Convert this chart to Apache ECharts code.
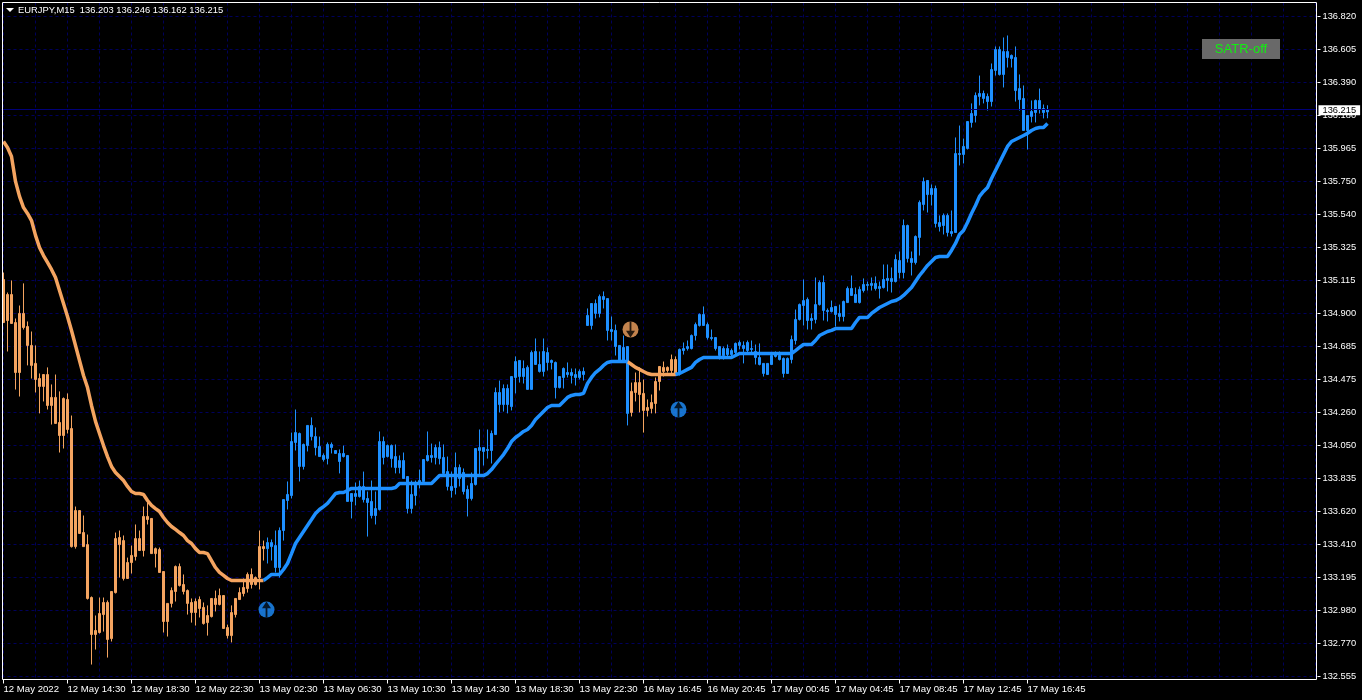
<!DOCTYPE html>
<html>
<head>
<meta charset="utf-8">
<title>EURJPY,M15</title>
<script src="https://cdn.jsdelivr.net/npm/echarts@6/dist/echarts.min.js"></script>
<style>
html, body { margin: 0; padding: 0; background: #000; }
#chart { width: 1362px; height: 700px; }
</style>
</head>
<body>
<div id="chart"></div>
<script>
const timeLabels = ["12 May 2022", "12 May 14:30", "12 May 18:30", "12 May 22:30", "13 May 02:30", "13 May 06:30",
  "13 May 10:30", "13 May 14:30", "13 May 18:30", "13 May 22:30", "16 May 16:45", "16 May 20:45",
  "17 May 00:45", "17 May 04:45", "17 May 08:45", "17 May 12:45", "17 May 16:45"];
const priceLabels = ["136.820", "136.605", "136.390", "136.180", "135.965", "135.750", "135.540", "135.325", "135.115",
  "134.900", "134.685", "134.475", "134.260", "134.050", "133.835", "133.620", "133.410", "133.195", "132.980",
  "132.770", "132.555"];
const priceStep = 0.21325;
const lastPrice = 136.215;

const barOpen = [
  135.120,134.855,135.023,134.842,134.519,134.901,134.816,134.694,134.578,134.480,
  134.429,134.506,134.306,134.358,134.196,134.112,134.345,134.157,133.394,133.627,
  133.485,133.407,133.065,132.826,132.839,132.955,133.033,132.800,133.097,133.453,
  133.433,133.188,133.291,133.330,133.446,133.369,133.589,133.576,133.349,133.375,
  133.233,132.910,133.027,133.104,133.265,133.149,133.110,133.033,132.968,133.052,
  133.001,132.903,132.942,133.059,133.020,133.078,132.871,132.819,132.955,133.052,
  133.091,133.123,133.214,133.149,133.194,133.394,133.381,133.420,133.401,133.259,
  133.498,133.692,133.724,134.067,134.125,133.912,134.047,134.177,134.105,134.041,
  133.957,133.963,134.054,134.015,133.996,133.976,133.983,133.686,133.737,133.718,
  133.783,133.705,133.686,133.595,133.634,134.073,133.976,134.047,133.976,133.905,
  133.950,133.847,133.640,133.724,133.795,133.815,133.950,133.983,133.970,134.034,
  133.970,133.879,133.783,133.776,133.905,133.873,133.763,133.705,133.795,134.034,
  134.009,134.022,134.015,134.118,134.390,134.312,134.416,134.299,134.487,134.597,
  134.493,134.552,134.410,134.655,134.571,134.526,134.648,134.584,134.584,134.422,
  134.487,134.519,134.500,134.506,134.487,134.526,134.823,134.823,134.965,134.901,
  135.010,134.997,134.784,134.791,134.694,134.590,134.687,134.261,134.390,134.454,
  134.384,134.274,134.287,134.319,134.461,134.552,134.532,134.532,134.603,134.519,
  134.661,134.674,134.674,134.758,134.823,134.894,134.829,134.745,134.745,134.687,
  134.629,134.674,134.635,134.648,134.713,134.694,134.661,134.674,134.655,134.616,
  134.578,134.506,134.571,134.623,134.629,134.610,134.513,134.603,134.726,134.862,
  134.952,134.991,134.855,134.862,134.958,135.101,134.920,134.913,134.946,134.881,
  134.881,134.971,135.062,135.023,134.971,135.049,135.088,135.082,135.095,135.062,
  135.068,135.114,135.127,135.107,135.243,135.165,135.469,135.256,135.230,135.392,
  135.605,135.760,135.669,135.708,135.462,135.469,135.534,135.417,135.424,135.934,
  135.928,135.967,136.135,136.180,136.303,136.322,136.303,136.270,136.471,136.606,
  136.445,136.593,136.548,136.555,136.283,136.290,136.083,136.174,136.199,136.277,
  136.225,136.203];
const barClose = [
  134.842,135.023,134.836,134.519,134.901,134.810,134.694,134.565,134.474,134.429,
  134.506,134.306,134.358,134.190,134.112,134.351,134.151,133.394,133.627,133.479,
  133.394,133.059,132.826,132.852,132.962,133.033,132.794,133.104,133.446,133.407,
  133.188,133.291,133.337,133.446,133.369,133.589,133.569,133.349,133.381,133.227,
  132.910,133.027,133.110,133.265,133.143,133.104,133.027,132.968,133.039,132.994,
  132.897,132.949,133.059,133.020,133.078,132.865,132.819,132.968,133.059,133.097,
  133.130,133.214,133.149,133.194,133.394,133.381,133.420,133.394,133.259,133.498,
  133.698,133.731,134.073,134.131,133.912,134.054,134.177,134.105,134.034,133.976,
  133.983,134.054,134.034,133.996,133.944,133.996,133.686,133.737,133.718,133.783,
  133.698,133.679,133.595,133.640,134.073,133.970,134.047,133.963,133.905,133.950,
  133.834,133.640,133.731,133.795,133.821,133.957,133.983,133.970,134.034,133.963,
  133.867,133.783,133.757,133.905,133.834,133.750,133.705,133.802,134.028,134.015,
  134.034,134.015,134.125,134.390,134.312,134.416,134.312,134.493,134.590,134.493,
  134.545,134.410,134.648,134.571,134.526,134.655,134.584,134.597,134.422,134.493,
  134.545,134.506,134.519,134.487,134.526,134.506,134.888,134.965,134.901,135.010,
  134.991,134.791,134.797,134.687,134.590,134.681,134.255,134.397,134.454,134.377,
  134.274,134.293,134.325,134.461,134.558,134.526,134.552,134.603,134.500,134.668,
  134.674,134.687,134.758,134.829,134.894,134.823,134.745,134.739,134.674,134.629,
  134.674,134.635,134.661,134.707,134.694,134.674,134.713,134.668,134.616,134.571,
  134.513,134.578,134.629,134.635,134.603,134.513,134.610,134.732,134.862,134.958,
  134.984,134.855,134.868,134.958,135.101,134.920,134.913,134.939,134.894,134.901,
  134.978,135.062,135.017,134.971,135.056,135.088,135.082,135.095,135.062,135.075,
  135.120,135.127,135.107,135.249,135.165,135.469,135.256,135.230,135.398,135.618,
  135.753,135.669,135.708,135.482,135.488,135.534,135.424,135.430,135.934,135.928,
  135.980,136.141,136.193,136.309,136.322,136.290,136.270,136.477,136.606,136.445,
  136.593,136.555,136.568,136.341,136.354,136.083,136.180,136.206,136.277,136.219,
  136.199,136.215];
const barLow = [
  134.842,134.655,134.836,134.409,134.364,134.797,134.565,134.480,134.390,134.255,
  134.332,134.280,134.183,134.190,134.002,134.028,134.125,133.388,133.381,133.479,
  133.394,133.052,132.632,132.729,132.832,132.845,132.677,132.781,133.091,133.194,
  133.175,133.188,133.220,133.304,133.369,133.330,133.537,133.349,133.259,133.227,
  132.839,132.813,133.001,133.039,133.136,133.085,132.955,132.903,132.884,132.936,
  132.890,132.819,132.936,132.975,133.014,132.865,132.800,132.775,132.936,133.052,
  133.072,133.097,133.123,133.143,133.117,133.304,133.285,133.304,133.227,133.194,
  133.433,133.634,133.705,134.015,133.815,133.892,134.009,134.080,133.983,133.976,
  133.944,133.925,133.996,133.996,133.867,133.970,133.686,133.576,133.660,133.711,
  133.679,133.459,133.576,133.537,133.627,133.925,133.970,133.905,133.867,133.867,
  133.834,133.608,133.608,133.660,133.770,133.815,133.944,133.937,133.925,133.925,
  133.860,133.757,133.711,133.731,133.783,133.731,133.589,133.692,133.789,133.853,
  133.918,133.963,133.931,134.118,134.261,134.267,134.255,134.274,134.384,134.454,
  134.448,134.410,134.410,134.571,134.519,134.493,134.532,134.539,134.351,134.416,
  134.416,134.487,134.448,134.435,134.474,134.467,134.823,134.797,134.868,134.875,
  134.933,134.726,134.726,134.629,134.584,134.584,134.177,134.235,134.332,134.261,
  134.131,134.235,134.255,134.255,134.403,134.493,134.519,134.500,134.500,134.500,
  134.635,134.661,134.668,134.726,134.816,134.823,134.732,134.726,134.661,134.603,
  134.603,134.616,134.623,134.635,134.668,134.578,134.635,134.642,134.571,134.565,
  134.493,134.506,134.571,134.616,134.597,134.487,134.513,134.578,134.700,134.855,
  134.823,134.797,134.797,134.836,134.952,134.855,134.849,134.907,134.816,134.849,
  134.849,134.971,135.017,134.971,134.965,135.036,135.049,135.049,135.049,134.997,
  135.062,135.043,135.036,135.101,135.127,135.127,135.230,135.146,135.217,135.275,
  135.566,135.553,135.598,135.456,135.430,135.411,135.398,135.398,135.424,135.857,
  135.870,135.960,136.102,136.135,136.245,136.258,136.212,136.238,136.438,136.438,
  136.361,136.490,136.490,136.270,136.212,136.083,135.960,136.135,136.135,136.193,
  136.161,136.162];
const barHigh = [
  135.165,135.036,135.114,134.868,134.952,135.095,134.849,134.784,134.694,134.513,
  134.506,134.552,134.442,134.506,134.397,134.358,134.384,134.241,133.653,133.627,
  133.595,133.472,133.072,132.949,133.065,133.065,133.046,133.104,133.485,133.498,
  133.466,133.323,133.401,133.537,133.498,133.653,133.685,133.576,133.388,133.388,
  133.233,133.027,133.130,133.272,133.285,133.214,133.117,133.059,133.059,133.072,
  133.033,133.014,133.059,133.110,133.123,133.078,132.890,133.014,133.059,133.130,
  133.188,133.227,133.253,133.201,133.498,133.433,133.453,133.440,133.498,133.518,
  133.698,133.815,134.131,134.280,134.131,134.060,134.177,134.229,134.164,134.105,
  133.996,134.067,134.067,134.015,134.022,134.047,133.983,133.737,133.808,133.821,
  133.879,133.750,133.821,133.750,134.138,134.105,134.054,134.054,134.054,133.983,
  134.002,133.847,133.821,133.821,133.892,133.957,134.138,134.060,134.054,134.073,
  134.054,133.976,133.879,134.002,133.925,133.899,133.789,133.873,134.028,134.151,
  134.034,134.151,134.144,134.422,134.467,134.442,134.442,134.493,134.623,134.597,
  134.597,134.565,134.661,134.739,134.655,134.739,134.681,134.603,134.590,134.493,
  134.552,134.584,134.545,134.545,134.539,134.552,134.933,134.965,134.991,135.023,
  135.043,134.997,134.881,134.829,134.694,134.758,134.687,134.454,134.519,134.552,
  134.474,134.345,134.377,134.487,134.558,134.590,134.558,134.635,134.623,134.674,
  134.713,134.726,134.765,134.842,134.901,134.946,134.842,134.797,134.745,134.687,
  134.687,134.700,134.674,134.713,134.726,134.720,134.726,134.726,134.700,134.707,
  134.578,134.578,134.635,134.655,134.655,134.616,134.616,134.758,134.926,134.965,
  135.120,135.004,134.901,135.133,135.114,135.146,134.933,134.984,134.946,134.958,
  134.984,135.075,135.146,135.068,135.075,135.127,135.107,135.133,135.140,135.107,
  135.217,135.217,135.198,135.282,135.301,135.508,135.475,135.301,135.405,135.631,
  135.779,135.760,135.734,135.727,135.534,135.547,135.547,135.566,136.038,136.115,
  136.031,136.141,136.258,136.329,136.438,136.341,136.322,136.516,136.626,136.626,
  136.684,136.697,136.574,136.626,136.445,136.374,136.180,136.277,136.283,136.354,
  136.251,136.246];
const satrLine = [
  136.012,135.973,135.915,135.754,135.657,135.585,135.547,135.501,135.405,135.327,
  135.275,135.230,135.185,135.133,135.049,134.965,134.881,134.791,134.694,134.597,
  134.500,134.422,134.306,134.203,134.125,134.047,133.976,133.912,133.873,133.847,
  133.821,133.783,133.750,133.737,133.737,133.731,133.692,133.660,133.640,133.621,
  133.582,133.550,133.524,133.505,133.485,133.466,133.433,133.414,133.381,133.356,
  133.356,133.349,133.304,133.259,133.227,133.208,133.188,133.175,133.175,133.175,
  133.175,133.175,133.175,133.175,133.175,133.175,133.194,133.214,133.214,133.214,
  133.246,133.285,133.349,133.414,133.453,133.492,133.531,133.569,133.608,133.634,
  133.653,133.673,133.705,133.737,133.744,133.744,133.757,133.770,133.770,133.770,
  133.770,133.770,133.770,133.770,133.770,133.770,133.770,133.770,133.776,133.802,
  133.802,133.802,133.802,133.802,133.802,133.802,133.802,133.802,133.828,133.853,
  133.853,133.853,133.853,133.853,133.853,133.853,133.853,133.853,133.853,133.853,
  133.853,133.866,133.892,133.925,133.957,133.989,134.028,134.073,134.099,134.118,
  134.138,134.151,134.177,134.215,134.241,134.267,134.293,134.306,134.306,134.306,
  134.332,134.358,134.371,134.377,134.377,134.384,134.448,134.487,134.519,134.539,
  134.565,134.584,134.590,134.590,134.590,134.590,134.590,134.571,134.552,134.539,
  134.526,134.513,134.506,134.506,134.506,134.506,134.506,134.506,134.506,134.513,
  134.526,134.539,134.552,134.584,134.603,134.616,134.616,134.616,134.616,134.616,
  134.616,134.616,134.616,134.629,134.642,134.642,134.642,134.642,134.642,134.642,
  134.642,134.642,134.642,134.642,134.642,134.642,134.642,134.642,134.661,134.681,
  134.700,134.700,134.700,134.726,134.758,134.771,134.784,134.791,134.803,134.803,
  134.803,134.803,134.803,134.842,134.875,134.875,134.875,134.901,134.920,134.939,
  134.952,134.965,134.978,134.984,134.997,135.017,135.043,135.068,135.107,135.146,
  135.178,135.211,135.236,135.262,135.269,135.269,135.269,135.308,135.353,135.411,
  135.437,135.488,135.547,135.598,135.657,135.689,135.715,135.773,135.825,135.876,
  135.928,135.980,136.012,136.025,136.038,136.051,136.064,136.083,136.096,136.102,
  136.102,136.128];
// bars where the trend colour flips: orange, blue, orange, blue
const trendFlips = [66, 157, 169];
const signalBars = [66, 157, 169];
const signalPrices = [132.987, 134.797, 134.280];
const signalUp = [true, false, true];

const ORANGE = "#F4A460";
const BLUE = "#1E90FF";
const GRID_COLOR = "#00005c";
const FONT = "Liberation Sans";
const ARROW = "path://M50 0 L90 42 L58 42 L58 100 L42 100 L42 42 L10 42 Z";

const slotCount = 329;
const categories = [];
for (let i = 0; i < slotCount; i++) {
  categories.push(i % 16 === 0 && timeLabels[i / 16] ? timeLabels[i / 16] : "");
}
const priceTicks = priceLabels.map((s, i) => 136.82 - i * priceStep);

function isDown(i) {
  return i < trendFlips[0] || (i >= trendFlips[1] && i < trendFlips[2]);
}

const candleData = barOpen.map((o, i) => {
  const c = isDown(i) ? ORANGE : BLUE;
  return {
    value: [o, barClose[i], barLow[i], barHigh[i]],
    itemStyle: { color: c, color0: c, borderColor: c, borderColor0: c, borderColorDoji: c },
  };
});
// the line keeps one shared point at each flip so the colours join up
const orangeLine = satrLine.map((v, i) => (i < trendFlips[0] || (i >= trendFlips[1] - 1 && i < trendFlips[2]) ? v : null));
const blueLine = satrLine.map((v, i) => ((i >= trendFlips[0] - 1 && i < trendFlips[1]) || i >= trendFlips[2] - 1 ? v : null));

const chart = echarts.init(document.getElementById("chart"));
chart.setOption({
  animation: false,
  backgroundColor: "#000",
  title: {
    text: "EURJPY,M15  136.203 136.246 136.162 136.215",
    left: 18,
    top: 6,
    padding: 0,
    textStyle: { color: "#fff", fontFamily: FONT, fontSize: 9.4, fontWeight: "normal" },
  },
  grid: { left: 1.5, top: 2.5, width: 4 * slotCount, height: 677, containLabel: false },
  xAxis: {
    type: "category",
    data: categories,
    boundaryGap: true,
    axisLine: { show: false },
    axisTick: {
      show: true,
      alignWithLabel: true,
      length: 4,
      lineStyle: { color: "#fff" },
      interval: (i) => i % 16 === 0 && i <= 256,
    },
    axisLabel: {
      color: "#fff",
      fontFamily: FONT,
      fontSize: 9.6,
      align: "left",
      margin: 5,
      interval: (i) => i % 16 === 0 && i <= 256,
    },
    splitLine: {
      show: true,
      alignWithLabel: true,
      interval: (i) => i % 8 === 0,
      lineStyle: { color: GRID_COLOR, type: [3, 3] },
    },
  },
  yAxis: {
    type: "value",
    position: "right",
    min: 132.5353,
    max: 136.9101,
    scale: true,
    axisLine: { show: false },
    axisTick: { show: true, length: 3, customValues: priceTicks, lineStyle: { color: "#fff" } },
    axisLabel: {
      color: "#fff",
      fontFamily: FONT,
      fontSize: 9.3,
      margin: 5,
      padding: [3, 0, 0, 0],
      customValues: priceTicks,
      formatter: (v) => priceLabels[Math.round((136.82 - v) / priceStep)],
    },
    splitLine: { show: true, lineStyle: { color: GRID_COLOR, type: [3, 3] } },
  },
  series: [
    {
      type: "candlestick",
      data: candleData,
      barWidth: 2,
      z: 3,
      markLine: {
        silent: true,
        symbol: "none",
        animation: false,
        data: [{ yAxis: lastPrice }],
        lineStyle: { color: "#000078", type: "solid", width: 1 },
        label: {
          position: "end",
          distance: 1,
          offset: [0, 1],
          formatter: lastPrice.toFixed(3),
          color: "#000",
          backgroundColor: "#fff",
          padding: [1, 4, 0, 4],
          fontFamily: FONT,
          fontSize: 9.3,
        },
      },
    },
    { type: "line", data: orangeLine, showSymbol: false, lineStyle: { color: ORANGE, width: 3.5 }, z: 4 },
    { type: "line", data: blueLine, showSymbol: false, lineStyle: { color: BLUE, width: 3.5 }, z: 4 },
    {
      type: "scatter",
      symbol: "circle",
      symbolSize: 16,
      symbolOffset: [-1, 0],
      z: 5,
      data: signalBars.map((b, i) => ({
        value: [b, signalPrices[i]],
        itemStyle: { color: signalUp[i] ? BLUE : ORANGE },
      })),
    },
    {
      type: "scatter",
      symbol: ARROW,
      symbolSize: [9, 16],
      symbolOffset: [-1, 0],
      z: 6,
      itemStyle: { color: "#000" },
      data: signalBars.map((b, i) => ({
        value: [b, signalPrices[i]],
        symbolRotate: signalUp[i] ? 0 : 180,
      })),
    },
  ],
  graphic: [
    {
      type: "rect",
      silent: true,
      z: 10,
      shape: { x: 2.5, y: 2.5, width: 1314, height: 677 },
      style: { fill: null, stroke: "#fff", lineWidth: 1 },
    },
    {
      type: "polygon",
      silent: true,
      z: 10,
      shape: { points: [[6, 8], [14, 8], [10, 12]] },
      style: { fill: "#fff" },
    },
    {
      type: "rect",
      silent: true,
      z: 10,
      shape: { x: 1202, y: 39, width: 78, height: 20 },
      style: { fill: "#696969" },
    },
    {
      type: "text",
      silent: true,
      z: 11,
      x: 1241,
      y: 49,
      style: { text: "SATR-off", fill: "#10f010", font: "13px Liberation Sans", align: "center", verticalAlign: "middle" },
    },
  ],
});
</script>
</body>
</html>
